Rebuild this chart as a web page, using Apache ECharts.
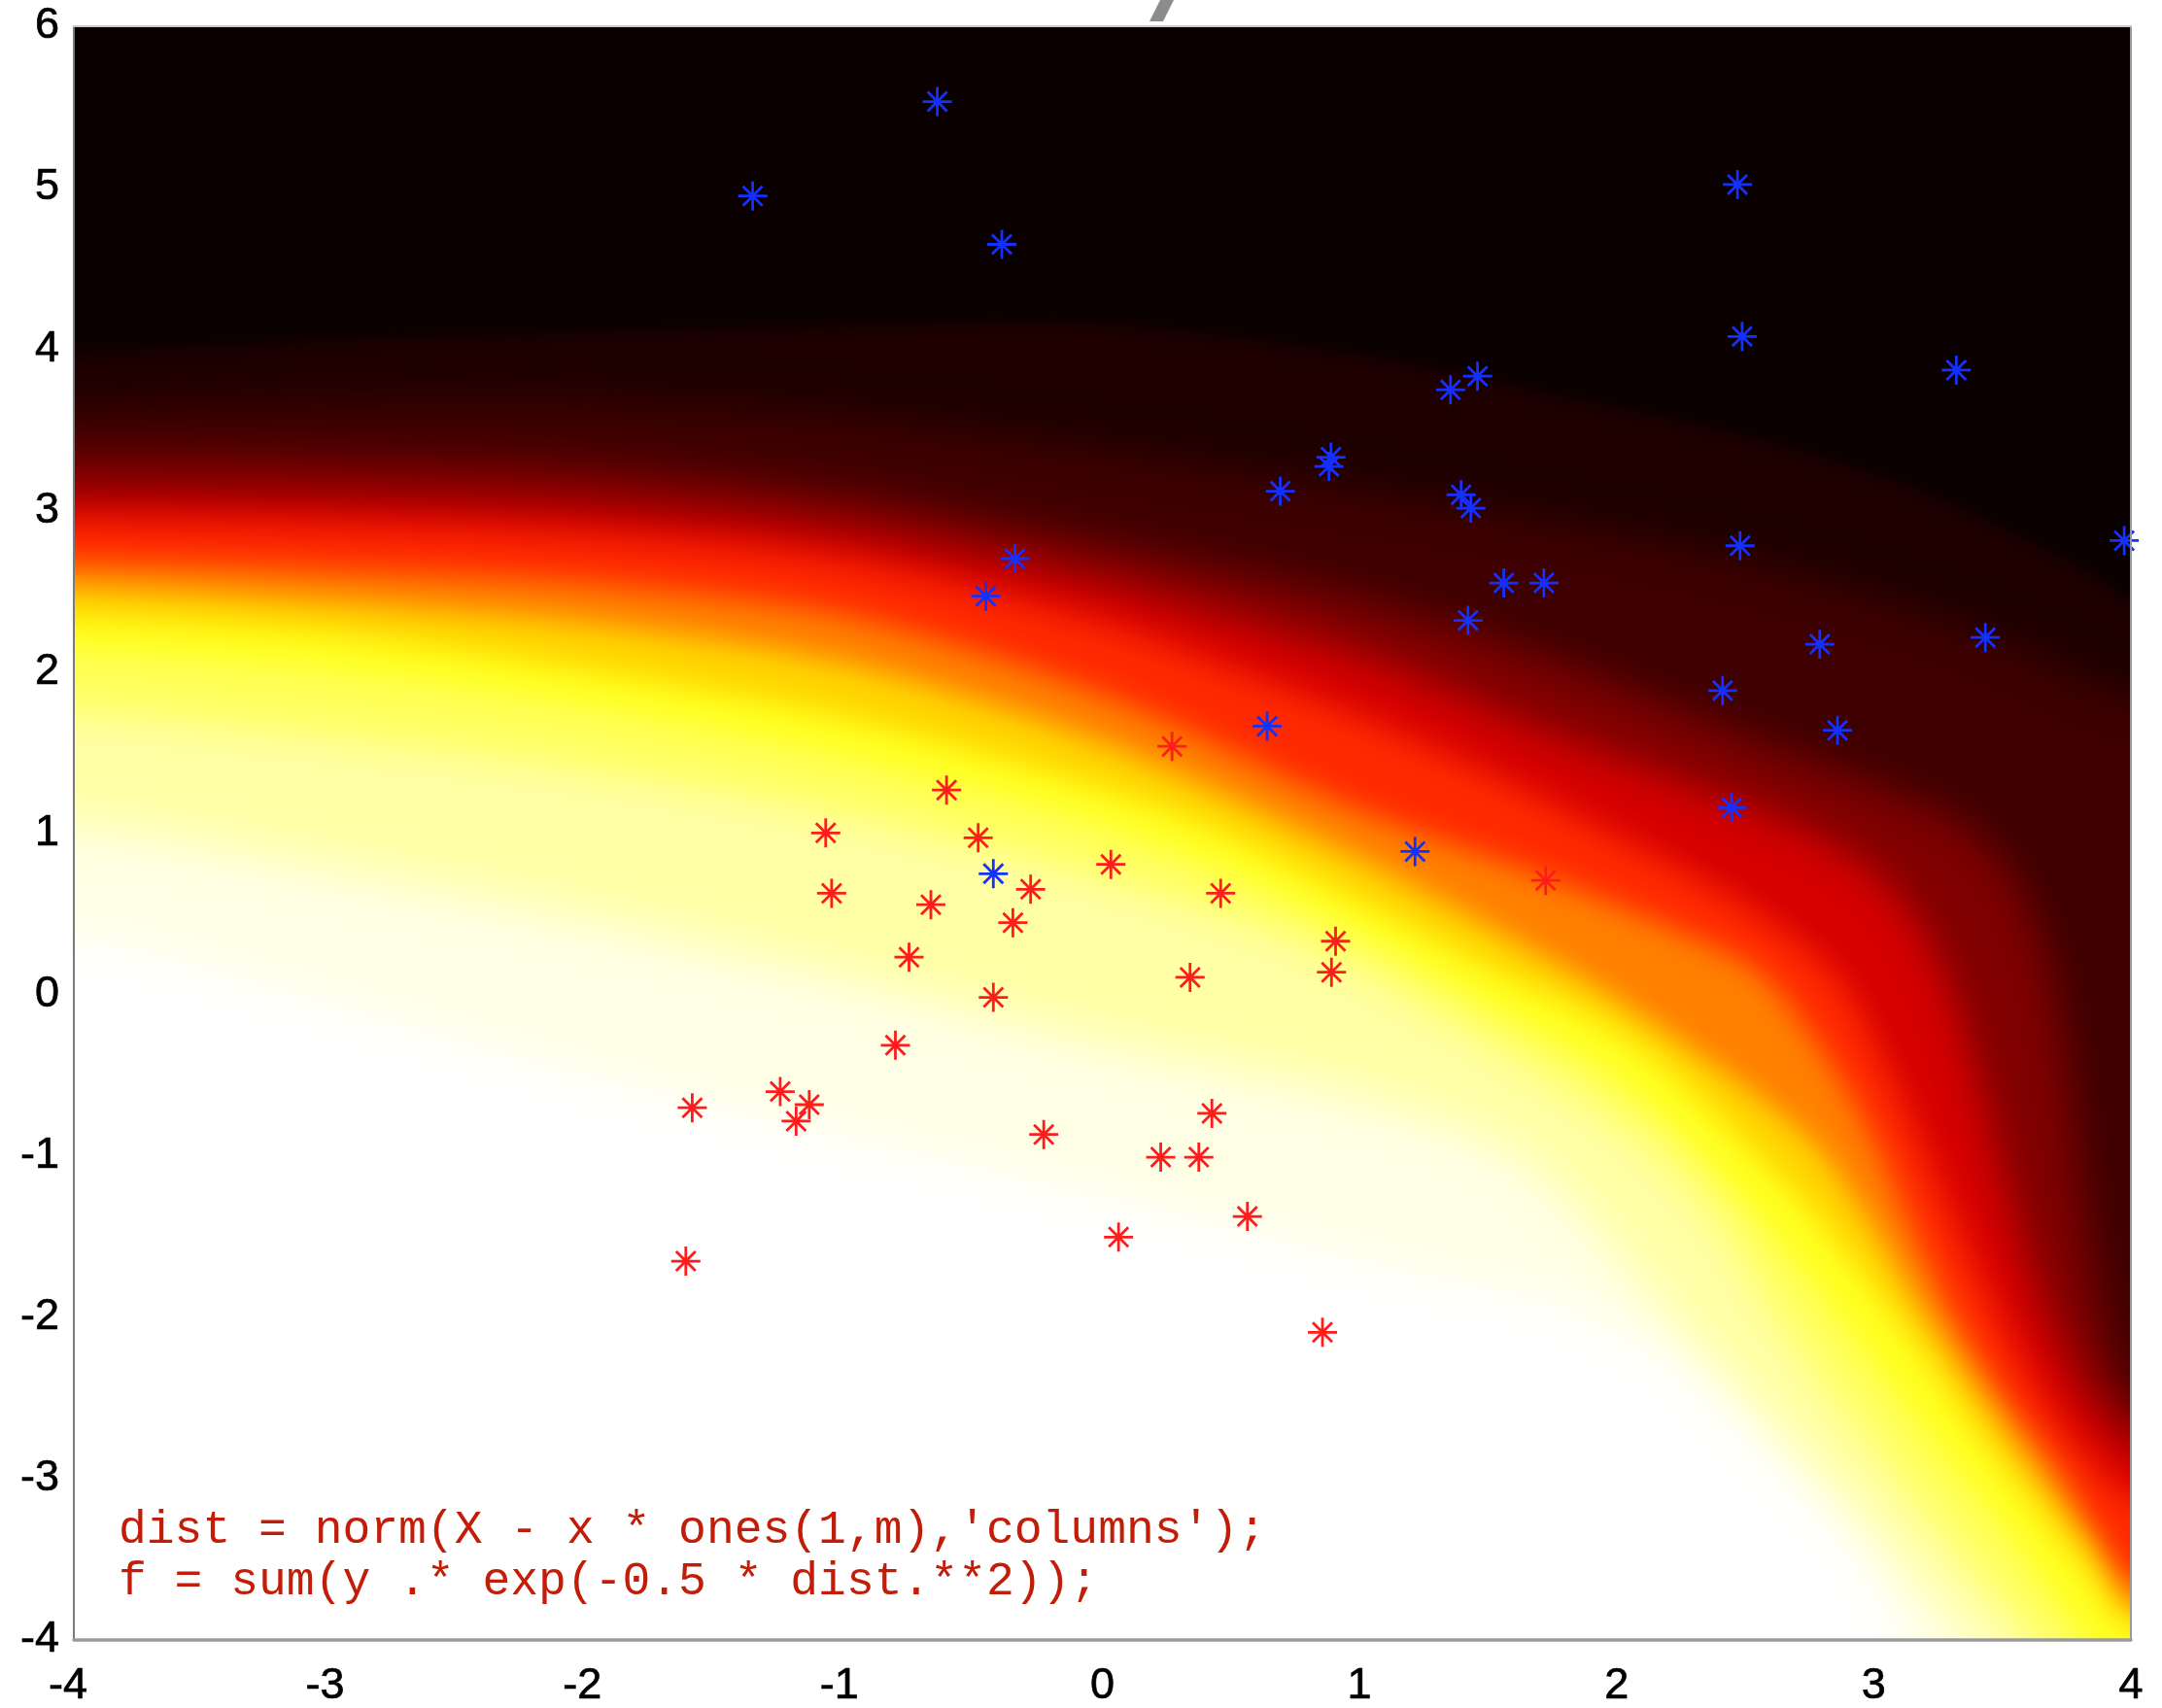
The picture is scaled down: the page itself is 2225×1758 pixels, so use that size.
<!DOCTYPE html>
<html><head><meta charset="utf-8">
<script src="https://cdn.jsdelivr.net/npm/echarts@6/dist/echarts.min.js"></script>
<style>html,body{margin:0;padding:0;background:#fff}#c{width:2225px;height:1758px}</style>
</head><body><div id="c"></div><script>
// ---- scatter points ----
const blueX = [-0.642,-1.360,-0.391,-0.340,-0.453,2.470,2.488,3.321,1.354,1.459,0.889,0.881,0.692,1.395,1.433,3.974,2.480,1.561,1.717,1.422,3.434,2.790,2.412,2.859,0.641,2.447,1.216,-0.424];
const blueY = [5.533,4.948,4.648,2.700,2.467,5.019,4.077,3.869,3.747,3.831,3.329,3.272,3.118,3.096,3.013,2.812,2.780,2.549,2.549,2.317,2.211,2.170,1.882,1.636,1.662,1.157,0.885,0.747];
const redX = [-0.606,-1.076,-0.483,0.271,0.033,1.724,0.460,0.907,0.891,0.341,0.426,0.227,0.375,0.564,0.063,0.856,-1.053,-0.667,-0.279,-0.348,-0.752,-0.424,-0.805,-1.595,-1.253,-1.140,-1.191,-0.228,-1.620];
const redY = [1.266,1.000,0.970,1.537,0.805,0.706,0.626,0.329,0.137,0.105,-0.738,-1.010,-1.010,-1.377,-1.505,-2.095,0.626,0.555,0.651,0.444,0.230,-0.019,-0.316,-0.703,-0.603,-0.684,-0.786,-0.869,-1.654];

// ---- background field: level curves (value rises toward lower-left) ----
const levelValues = [0, 0.06, 0.125, 0.25, 0.375, 0.5, 0.625, 0.75, 0.81, 0.875, 0.95, 1.0];
const L0 = [[-4,3.98],[-3,4.05],[-2,4.10],[-1,4.14],[0,4.15],[1,3.96],[1.8,3.70],[2.55,3.44],[3.1,3.17],[3.58,2.83],[3.85,2.6],[4,2.45]];
const L1 = [[-4,3.66],[-3,3.68],[-2,3.68],[-1,3.58],[0,3.38],[1,3.13],[2,2.86],[2.6,2.65],[3.2,2.37],[3.6,2.13],[4,1.85]];
const L2 = [[-4,3.35],[-3,3.33],[-2,3.27],[-1,3.10],[0,2.80],[1,2.45],[1.7,2.1],[2.5,1.6],[3.0,1.3],[3.35,1.05],[3.55,0.7],[3.68,0.2],[3.76,-0.5],[3.81,-1.2],[3.87,-1.85],[3.94,-2.3],[4,-2.5]];
const L3 = [[-4,3.09],[-3,3.07],[-2,3.02],[-1,2.87],[0,2.55],[1,2.1],[1.7,1.64],[2.45,1.2],[2.85,0.92],[3.1,0.6],[3.28,0.1],[3.4,-0.5],[3.5,-1.1],[3.63,-1.8],[3.78,-2.35],[3.9,-2.62],[4,-2.78]];
const L4 = [[-4,2.93],[-3,2.9],[-2,2.84],[-1,2.68],[0,2.3],[0.5,2.02],[1,1.72],[1.5,1.37],[2,0.98],[2.5,0.55],[2.85,0.12],[3.05,-0.45],[3.22,-1.05],[3.4,-1.7],[3.55,-2.2],[3.72,-2.65],[3.88,-2.95],[4,-3.12]];
const L5 = [[-4,2.68],[-3,2.63],[-2,2.55],[-1,2.35],[0,1.86],[1,1.14],[1.7,0.74],[2.2,0.42],[2.55,0.14],[2.8,-0.35],[3.0,-0.9],[3.15,-1.45],[3.3,-1.96],[3.5,-2.5],[3.7,-2.92],[3.85,-3.3],[4,-3.62]];
const L6 = [[-4,2.52],[-3,2.43],[-2,2.3],[-1,2.05],[0,1.56],[1,0.84],[1.8,0.16],[2.3,-0.35],[2.75,-0.9],[3.0,-1.45],[3.19,-1.96],[3.42,-2.5],[3.66,-3.03],[3.85,-3.45],[4,-3.8]];
const L7 = [[-4,2.33],[-3,2.23],[-2,2.01],[-1,1.72],[0,1.28],[0.5,0.98],[1.0,0.58],[1.5,0.17],[1.9,-0.14],[2.18,-0.44],[2.46,-0.86],[2.75,-1.33],[2.97,-1.76],[3.19,-2.23],[3.40,-2.71],[3.62,-3.16],[3.84,-3.6],[4.0,-3.92]];
const L7b = [[-4,2.12],[-3,2.0],[-2,1.78],[-1,1.47],[0,1.05],[0.5,0.75],[1.0,0.36],[1.5,-0.08],[1.9,-0.42],[2.2,-0.8],[2.5,-1.3],[2.72,-1.7],[2.86,-1.98],[3.1,-2.5],[3.35,-3.0],[3.6,-3.5],[3.82,-4.0]];
const L8 = [[-4,1.75],[-3,1.6],[-2,1.4],[-1,1.12],[0,0.72],[0.8,0.3],[1.5,-0.3],[2.1,-0.92],[2.4,-1.42],[2.61,-1.96],[2.95,-2.7],[3.3,-3.4],[3.62,-4.0]];
const L9 = [[-4,1.05],[-3,0.78],[-2,0.47],[-1,0.1],[0,-0.3],[1,-0.64],[1.6,-0.98],[1.95,-1.5],[2.2,-1.98],[2.6,-2.7],[3.0,-3.35],[3.38,-4.0]];
const L10 = [[-4,0.36],[-3,-0.05],[-2,-0.5],[-1,-0.88],[0,-1.25],[0.8,-1.56],[1.3,-1.75],[1.74,-1.9],[2.18,-2.25],[2.46,-2.63],[2.75,-3.11],[2.97,-3.56],[3.12,-4.0]];
const levelCurves = [L0,L1,L2,L3,L4,L5,L6,L7,L7b,L8,L9,L10];
// colour filled on the high side of each level curve (hot colormap, band mid values)
const bandColors = ['#1e0000','#3e0000','#800000','#d50000','#ff2a00','#ff8000','#ffd500','#ffff1f','#ffff5c','#ffffa6','#ffffe6','#ffffff'];
const bandBlur   = [14, 40, 44, 40, 34, 30, 28, 28, 30, 40, 50, 50];
const lowColor = '#0b0000';

const codeLines = ["dist = norm(X - x * ones(1,m),'columns');", "f = sum(y .* exp(-0.5 * dist.**2));"];

const X_MIN = -4, X_MAX = 4, Y_MIN = -4, Y_MAX = 6;

// asterisk marker (plus + shorter x), filled thin bars
const STAR = 'path://M0 13.6H30V16.4H0Z M13.6 0H16.4V30H13.6Z M6 4L26 24L24 26L4 6Z M26 6L6 26L4 24L24 4Z';

function closePolygon(c) {
  const E = 0.9;
  const pts = [[X_MIN - E, c[0][1]]].concat(c);
  const a = c[c.length - 2], b = c[c.length - 1];
  if (b[0] >= X_MAX - 1e-9) {
    pts.push([X_MAX + E, b[1] - 0.2]);
    pts.push([X_MAX + E, Y_MIN - E]);
  } else {
    const k = (b[0] - a[0]) / (b[1] - a[1]);
    pts.push([b[0] + k * (-E), Y_MIN - E]);
  }
  pts.push([X_MIN - E, Y_MIN - E]);
  return pts;
}

const OFF = 6000;
function renderBand(params, api) {
  const i = api.value(2);
  const pts = closePolygon(levelCurves[i]).map(p => { const q = api.coord(p); return [q[0] + OFF, q[1]]; });
  const col = bandColors[i];
  return { type: 'polygon', shape: { points: pts, smooth: 0.3 },
    style: { fill: col, shadowBlur: bandBlur[i], shadowColor: col, shadowOffsetX: -OFF, shadowOffsetY: 0 } };
}

const labelFont = { color: '#000', fontSize: 45, fontFamily: 'Liberation Sans', textBorderColor: '#000', textBorderWidth: 0.7 };
const chart = echarts.init(document.getElementById('c'), null, { renderer: 'canvas' });
chart.setOption({
  animation: false,
  backgroundColor: '#fff',
  grid: { left: 76, right: 32, top: 27, bottom: 64, show: true, backgroundColor: lowColor, borderWidth: 0, containLabel: false },
  xAxis: [
    { type: 'value', min: X_MIN, max: X_MAX, interval: 1, position: 'bottom', z: 10,
      axisLine: { show: true, onZero: false, lineStyle: { color: '#9a9a9a', width: 3.5 } },
      axisTick: { show: false }, splitLine: { show: false },
      axisLabel: Object.assign({ margin: 25, formatter: v => v < 0 ? v + '{p| }' : String(v), rich: { p: { width: 12 } } }, labelFont) },
    { type: 'value', min: X_MIN, max: X_MAX, position: 'top', z: 10,
      axisLine: { show: true, onZero: false, lineStyle: { color: '#c8c8c8', width: 2 } },
      axisTick: { show: false }, splitLine: { show: false }, axisLabel: { show: false } }
  ],
  yAxis: [
    { type: 'value', min: Y_MIN, max: Y_MAX, interval: 1, position: 'left', z: 10,
      axisLine: { show: true, onZero: false, lineStyle: { color: '#7a7a7a', width: 2 } },
      axisTick: { show: false }, splitLine: { show: false },
      axisLabel: Object.assign({ margin: 15 }, labelFont) },
    { type: 'value', min: Y_MIN, max: Y_MAX, position: 'right', z: 10,
      axisLine: { show: true, onZero: false, lineStyle: { color: '#9a9a9a', width: 2 } },
      axisTick: { show: false }, splitLine: { show: false }, axisLabel: { show: false } }
  ],
  series: [
    { type: 'custom', coordinateSystem: 'cartesian2d', clip: true, silent: true, z: 1,
      data: levelCurves.map((c, i) => [0, 0, i]), renderItem: renderBand },
    { type: 'scatter', data: redX.map((x, i) => [x, redY[i]]), symbol: STAR, symbolSize: 30,
      itemStyle: { color: '#ff1c1c', opacity: 1 }, silent: true, z: 5 },
    { type: 'scatter', data: blueX.map((x, i) => [x, blueY[i]]), symbol: STAR, symbolSize: 30,
      itemStyle: { color: '#1430ff', opacity: 1 }, silent: true, z: 5 }
  ],
  graphic: [
    { type: 'polygon', z: 100, silent: true, shape: { points: [[1194,0],[1208,0],[1197,22],[1183,22]] }, style: { fill: '#8c8c8c' } },
    { type: 'text', z: 100, silent: true, x: 122, y: 1549,
      style: { text: codeLines.join('\n'), fontFamily: 'Liberation Mono', fontSize: 48, lineHeight: 53, fill: '#c21d08', verticalAlign: 'top' } }
  ]
});
</script></body></html>
